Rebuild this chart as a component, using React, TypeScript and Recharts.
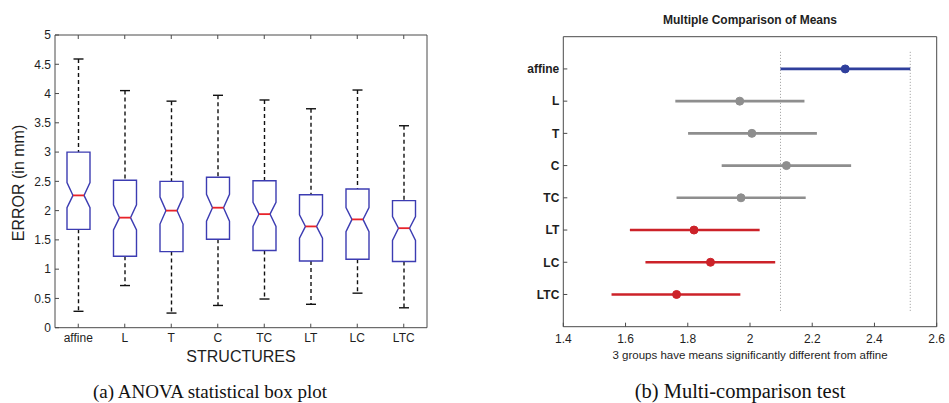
import React from 'react';
import {
  ComposedChart,
  Bar,
  Scatter,
  ErrorBar,
  XAxis,
  YAxis,
  ReferenceLine,
} from 'recharts';

// (a) box plot values (mm)
const categories = ['affine', 'L', 'T', 'C', 'TC', 'LT', 'LC', 'LTC'];
const whiskerLow = [0.28, 0.72, 0.25, 0.38, 0.49, 0.4, 0.59, 0.34];
const q1 = [1.68, 1.22, 1.3, 1.51, 1.32, 1.14, 1.17, 1.13];
const median = [2.26, 1.88, 2.0, 2.05, 1.94, 1.73, 1.85, 1.7];
const q3 = [3.0, 2.52, 2.5, 2.57, 2.51, 2.27, 2.37, 2.17];
const whiskerHigh = [4.59, 4.05, 3.87, 3.97, 3.89, 3.74, 4.06, 3.45];
const notchLow = [2.05, 1.67, 1.77, 1.82, 1.73, 1.53, 1.64, 1.49];
const notchHigh = [2.48, 2.1, 2.23, 2.28, 2.14, 1.93, 2.05, 1.9];
const errorTicks = [0, 0.5, 1, 1.5, 2, 2.5, 3, 3.5, 4, 4.5, 5];

// (b) multiple comparison of means
const groupMeans = [2.306, 1.967, 2.006, 2.117, 1.971, 1.82, 1.873, 1.764];
const ciLow = [2.098, 1.76, 1.801, 1.909, 1.764, 1.614, 1.664, 1.555];
const ciHigh = [2.515, 2.175, 2.215, 2.325, 2.179, 2.031, 2.081, 1.969];
const groupStatus = ['base', 'same', 'same', 'same', 'same', 'diff', 'diff', 'diff'];
const meanTicks = [1.4, 1.6, 1.8, 2, 2.2, 2.4, 2.6];
const rowTicks = [1, 2, 3, 4, 5, 6, 7, 8];

const statusColor: Record<string, string> = {
  base: '#2f3f9c',
  same: '#8e8e8e',
  diff: '#cc2229',
};

const boxData = categories.map((name, i) => ({
  name,
  range: [whiskerLow[i], whiskerHigh[i]],
  q1: q1[i],
  median: median[i],
  q3: q3[i],
  notchLow: notchLow[i],
  notchHigh: notchHigh[i],
}));

const compData = categories.map((name, i) => ({
  name,
  pos: i + 1,
  mean: groupMeans[i],
  err: [groupMeans[i] - ciLow[i], ciHigh[i] - groupMeans[i]],
  status: groupStatus[i],
}));

const axisColor = '#4a4a4a';
const tickText = { fill: '#1e1e1e', fontSize: 12 };

const BoxShape = (props: any) => {
  const { x, y, width, height, payload } = props;
  const top = Math.min(y, y + height);
  const bot = Math.max(y, y + height);
  const [lo, hi] = payload.range;
  const py = (v: number) => bot - ((v - lo) / (hi - lo)) * (bot - top);
  const l = x;
  const r = x + width;
  const cx = x + width / 2;
  const inset = width * 0.26;
  const yq1 = py(payload.q1);
  const yq3 = py(payload.q3);
  const ym = py(payload.median);
  const ynl = py(payload.notchLow);
  const ynh = py(payload.notchHigh);
  const box = [
    `M${l},${yq3}`,
    `L${r},${yq3}`,
    `L${r},${ynh}`,
    `L${r - inset},${ym}`,
    `L${r},${ynl}`,
    `L${r},${yq1}`,
    `L${l},${yq1}`,
    `L${l},${ynl}`,
    `L${l + inset},${ym}`,
    `L${l},${ynh}`,
    'Z',
  ].join(' ');
  return (
    <g>
      <line x1={cx} x2={cx} y1={top} y2={yq3} stroke="#111" strokeWidth={1.4} strokeDasharray="4 3" />
      <line x1={cx} x2={cx} y1={yq1} y2={bot} stroke="#111" strokeWidth={1.4} strokeDasharray="4 3" />
      <line x1={cx - 5} x2={cx + 5} y1={top} y2={top} stroke="#111" strokeWidth={1.4} />
      <line x1={cx - 5} x2={cx + 5} y1={bot} y2={bot} stroke="#111" strokeWidth={1.4} />
      <path d={box} fill="none" stroke="#3c3cb2" strokeWidth={1.4} />
      <line x1={l + inset} x2={r - inset} y1={ym} y2={ym} stroke="#e8232a" strokeWidth={1.8} />
    </g>
  );
};

const Dot = (color: string) => (props: any) =>
  <circle cx={props.cx} cy={props.cy} r={4} fill={color} stroke={color} />;

function BoxPlot() {
  return (
    <ComposedChart
      width={480}
      height={370}
      data={boxData}
      margin={{ top: 30, right: 43, left: 15, bottom: 12.3 }}
    >
      <XAxis
        dataKey="name"
        stroke={axisColor}
        tick={tickText}
        tickSize={-4}
        tickMargin={10}
        height={30}
        interval={0}
      />
      <XAxis
        xAxisId="top"
        dataKey="name"
        orientation="top"
        stroke={axisColor}
        tickSize={-4}
        tickFormatter={() => ''}
        height={5}
        interval={0}
      />
      <YAxis
        type="number"
        domain={[0, 5]}
        ticks={errorTicks}
        stroke={axisColor}
        tick={tickText}
        tickSize={-4}
        tickMargin={8}
        width={40}
        interval={0}
      />
      <YAxis
        yAxisId="r"
        orientation="right"
        type="number"
        domain={[0, 5]}
        ticks={errorTicks}
        stroke={axisColor}
        tickSize={-4}
        tickFormatter={() => ''}
        width={10}
        interval={0}
      />
      <Bar dataKey="range" barSize={23} shape={BoxShape} isAnimationActive={false} />
    </ComposedChart>
  );
}

function ComparisonPlot() {
  const groups = ['base', 'same', 'diff'];
  return (
    <ComposedChart
      width={459}
      height={370}
      margin={{ top: 31.7, right: 2.3, left: 13.3, bottom: 13.3 }}
    >
      <XAxis
        type="number"
        dataKey="mean"
        domain={[1.4, 2.6]}
        ticks={meanTicks}
        stroke={axisColor}
        tick={tickText}
        tickSize={-4}
        tickMargin={12}
        height={30}
        interval={0}
      />
      <XAxis
        xAxisId="top"
        type="number"
        orientation="top"
        domain={[1.4, 2.6]}
        ticks={meanTicks}
        stroke={axisColor}
        tickSize={-4}
        tickFormatter={() => ''}
        height={5}
        interval={0}
      />
      <YAxis
        type="number"
        dataKey="pos"
        reversed
        domain={[0, 9]}
        ticks={rowTicks}
        tickFormatter={(v: number) => categories[v - 1] ?? ''}
        stroke={axisColor}
        tick={{ ...tickText, fontWeight: 'bold' }}
        tickSize={-4}
        tickMargin={8}
        width={60}
        interval={0}
      />
      <YAxis
        yAxisId="r"
        orientation="right"
        type="number"
        reversed
        domain={[0, 9]}
        ticks={rowTicks}
        stroke={axisColor}
        tickSize={-4}
        tickFormatter={() => ''}
        width={10}
        interval={0}
      />
      <ReferenceLine
        segment={[{ x: ciLow[0], y: 0.47 }, { x: ciLow[0], y: 8.53 }]}
        stroke="#9a9a9a"
        strokeDasharray="1 2"
      />
      <ReferenceLine
        segment={[{ x: ciHigh[0], y: 0.47 }, { x: ciHigh[0], y: 8.53 }]}
        stroke="#9a9a9a"
        strokeDasharray="1 2"
      />
      {groups.map(g => (
        <Scatter
          key={g}
          data={compData.filter(d => d.status === g)}
          shape={Dot(statusColor[g])}
          isAnimationActive={false}
        >
          <ErrorBar
            dataKey="err"
            direction="x"
            width={0}
            stroke={statusColor[g]}
            strokeWidth={2.6}
            isAnimationActive={false}
          />
        </Scatter>
      ))}
    </ComposedChart>
  );
}

export default function App() {
  return (
    <div
      style={{
        position: 'fixed',
        left: 0,
        top: 0,
        width: 949,
        height: 403,
        background: '#fff',
        fontFamily: '"Liberation Sans", Arial, sans-serif',
      }}
    >
      <div style={{ position: 'absolute', left: 0, top: 0 }}>
        <BoxPlot />
      </div>
      <div style={{ position: 'absolute', left: 490, top: 0 }}>
        <ComparisonPlot />
      </div>
      <svg
        width={949}
        height={403}
        style={{ position: 'absolute', left: 0, top: 0, pointerEvents: 'none' }}
      >
        <text x={24} y={183} fontSize={16} fill="#1e1e1e" textAnchor="middle" transform="rotate(-90 24 183)">
          ERROR (in mm)
        </text>
        <text x={241} y={362} fontSize={16} fill="#1e1e1e" textAnchor="middle">
          STRUCTURES
        </text>
        <text x={750} y={24} fontSize={12} fontWeight="bold" fill="#1e1e1e" textAnchor="middle">
          Multiple Comparison of Means
        </text>
        <text x={750} y={359} fontSize={11.5} fill="#1e1e1e" textAnchor="middle">
          3 groups have means significantly different from affine
        </text>
        <text x={210} y={398} fontSize={19} fill="#111" textAnchor="middle" fontFamily='"Liberation Serif", serif'>
          (a) ANOVA statistical box plot
        </text>
        <text x={740} y={398} fontSize={20.5} fill="#111" textAnchor="middle" fontFamily='"Liberation Serif", serif'>
          (b) Multi-comparison test
        </text>
      </svg>
    </div>
  );
}
